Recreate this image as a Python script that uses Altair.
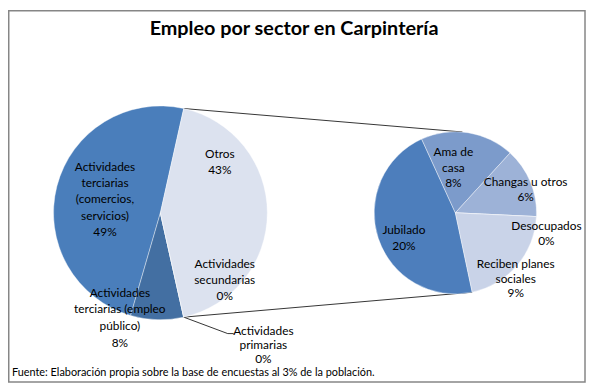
import math
import altair as alt
import pandas as pd

# ---------------- data ----------------
left_categories = [
    "Actividades terciarias (comercios, servicios)",
    "Actividades terciarias (empleo público)",
    "Actividades primarias",
    "Actividades secundarias",
    "Otros",
]
left_values = [49, 8, 0, 0, 43]

right_categories = [
    "Jubilado",
    "Ama de casa",
    "Changas u otros",
    "Desocupados",
    "Reciben planes sociales",
]
right_values = [20, 8, 6, 0, 9]

title_text = "Empleo por sector en Carpintería"
source_text = "Fuente: Elaboración propia sobre  la base de encuestas al 3%   de la población."

# ---------------- layout / style ----------------
W, H = 584, 378
OFF = 8  # page margin


def px(v):
    return v - OFF


left_colors = ["#4A7EBB", "#436FA2", "#4A7EBB", "#B9C9E2", "#DCE2EF"]
left_order = [4, 3, 1, 2, 0]          # clockwise stacking order (Otros first)
right_colors = ["#4D7EBC", "#7C9BCB", "#9DB2D7", "#B9C8E2", "#C9D3E8"]
right_order = [0, 1, 2, 3, 4]

L_CX, L_CY, L_R = px(162), px(213), 108
R_CX, R_CY, R_R = px(460), px(213), 82

total_left = sum(left_values)
otros_span = left_values[4] / total_left * 2 * math.pi
left_start = math.pi / 2 - otros_span / 2
right_start = math.radians(168)

left_wrapped = [
    ["Actividades", "terciarias", "(comercios,", "servicios)"],
    ["Actividades", "terciarias (empleo", "público)"],
    ["Actividades", "primarias"],
    ["Actividades", "secundarias"],
    ["Otros"],
]
right_wrapped = [["Jubilado"], ["Ama de", "casa"], ["Changas u otros"], ["Desocupados"],
                 ["Reciben planes", "sociales"]]

# (center x, first line y, line spacing)
left_label_pos = [(106, 167, 16.25), (121, 294, 16.7), (266, 332, 14.2), (227, 265, 16), (222, 154, 16)]
right_label_pos = [(408, 230, 17), (458, 152, 15.5), (531, 182, 15), (552, 226, 15), (521, 265, 14.5)]

FONT = "Lato"

# ---------------- tables ----------------
df_left = pd.DataFrame({
    "category": left_categories,
    "value": left_values,
    "color": left_colors,
    "order": left_order,
})
df_right = pd.DataFrame({
    "category": right_categories,
    "value": right_values,
    "color": right_colors,
    "order": right_order,
})

labels = []
for wrapped, vals, poss in ((left_wrapped, left_values, left_label_pos),
                            (right_wrapped, right_values, right_label_pos)):
    for lines, v, (x, y0, lh) in zip(wrapped, vals, poss):
        for i, line in enumerate(lines + [f"{v}%"]):
            labels.append({"text": line, "x": px(x), "y": px(y0 + i * lh)})
df_labels = pd.DataFrame(labels)


def on_circle(cx, cy, r, ang):
    return cx + r * math.sin(ang), cy - r * math.cos(ang)


tl = on_circle(L_CX, L_CY, L_R, left_start)
bl = on_circle(L_CX, L_CY, L_R, left_start + otros_span)
tr = on_circle(R_CX, R_CY, R_R, math.radians(5))
br = on_circle(R_CX, R_CY, R_R, math.radians(168))
lead_mid = (px(230), px(335))
lead_end = (px(236), px(335))

segments = [
    (tl, tr),
    (bl, br),
    (bl, lead_mid),
    (lead_mid, lead_end),
]
df_rules = pd.DataFrame([
    {"x": a[0], "y": a[1], "x2": b[0], "y2": b[1]} for a, b in segments
])

# ---------------- layers ----------------
border = alt.Chart(pd.DataFrame({"a": [0]})).mark_rect(
    fill="white", stroke="#868686", strokeWidth=1.5
).encode(
    x=alt.value(0.75), x2=alt.value(W - 1), y=alt.value(0.75), y2=alt.value(H - 2)
)

left_pie = alt.Chart(df_left).mark_arc(radius=L_R, stroke="#ffffff", strokeWidth=0.4).encode(
    theta=alt.Theta("value:Q", stack=True,
                    scale=alt.Scale(range=[left_start, left_start + 2 * math.pi])),
    order=alt.Order("order:Q"),
    color=alt.Color("color:N", scale=None),
    x=alt.value(L_CX),
    y=alt.value(L_CY),
)

right_pie = alt.Chart(df_right).mark_arc(radius=R_R, stroke="#ffffff", strokeWidth=0.4).encode(
    theta=alt.Theta("value:Q", stack=True,
                    scale=alt.Scale(range=[right_start, right_start + 2 * math.pi])),
    order=alt.Order("order:Q"),
    color=alt.Color("color:N", scale=None),
    x=alt.value(R_CX),
    y=alt.value(R_CY),
)

rules = alt.Chart(df_rules).mark_rule(color="#000000", strokeWidth=0.8).encode(
    x=alt.X("x:Q", scale=None, axis=None),
    y=alt.Y("y:Q", scale=None, axis=None),
    x2="x2:Q",
    y2="y2:Q",
)

label_layer = alt.Chart(df_labels).mark_text(
    font=FONT, fontSize=12, color="#000000", align="center", baseline="middle",
).encode(
    x=alt.X("x:Q", scale=None, axis=None),
    y=alt.Y("y:Q", scale=None, axis=None),
    text="text:N",
)

title_layer = alt.Chart(pd.DataFrame({"t": [title_text]})).mark_text(
    font=FONT, fontSize=20, fontWeight="bold", color="#000000", align="center", baseline="middle"
).encode(x=alt.value(px(297)), y=alt.value(px(27)), text="t:N")

source_layer = alt.Chart(pd.DataFrame({"t": [source_text]})).mark_text(
    font=FONT, fontSize=11, color="#000000", align="left", baseline="middle"
).encode(x=alt.value(px(12)), y=alt.value(px(375)), text="t:N")

chart = alt.layer(
    border, rules, left_pie, right_pie, label_layer, title_layer, source_layer
).resolve_scale(theta="independent").properties(
    width=W, height=H, autosize=alt.AutoSizeParams(type="none"), padding=0,
    background="white",
).configure_view(stroke=None)

chart.save("out.html", embed_options={"renderer": "svg", "actions": False})
